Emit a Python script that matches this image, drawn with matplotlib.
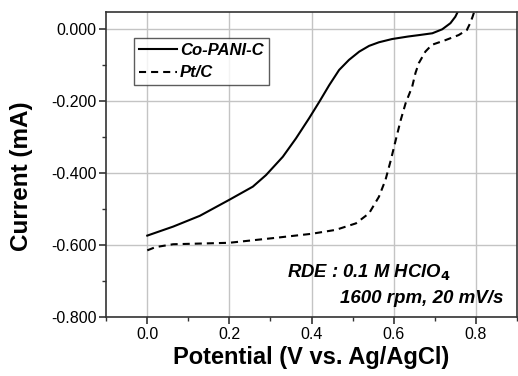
import numpy as np
import matplotlib
matplotlib.use('Agg')
import matplotlib.pyplot as plt
from matplotlib.ticker import MultipleLocator

# Co-PANI-C (solid)
copani_x = [0.0, 0.063, 0.128, 0.199, 0.257, 0.289, 0.330, 0.362, 0.394, 0.419,
            0.443, 0.467, 0.491, 0.516, 0.540, 0.564, 0.596, 0.635, 0.662, 0.694,
            0.718, 0.738, 0.750, 0.756]
copani_y = [-0.574, -0.549, -0.519, -0.475, -0.438, -0.406, -0.355, -0.304, -0.248,
            -0.202, -0.156, -0.114, -0.086, -0.063, -0.047, -0.037, -0.028, -0.021,
            -0.017, -0.012, -0.001, 0.016, 0.034, 0.048]

# Pt/C (dashed)
ptc_x = [0.0, 0.02, 0.063, 0.199, 0.306, 0.400, 0.459, 0.508, 0.540, 0.564, 0.580,
         0.593, 0.605, 0.617, 0.629, 0.645, 0.653, 0.661, 0.677, 0.693, 0.726,
         0.758, 0.778, 0.786, 0.792, 0.796]
ptc_y = [-0.615, -0.606, -0.598, -0.594, -0.581, -0.569, -0.558, -0.540, -0.512,
         -0.466, -0.419, -0.364, -0.308, -0.253, -0.206, -0.160, -0.122, -0.095,
         -0.063, -0.044, -0.031, -0.017, -0.003, 0.016, 0.034, 0.048]

x_ticks = [0.0, 0.2, 0.4, 0.6, 0.8]
x_labels = ['0.0', '0.2', '0.4', '0.6', '0.8']
y_ticks = [0.0, -0.2, -0.4, -0.6, -0.8]
y_labels = ['0.000', '-0.200', '-0.400', '-0.600', '-0.800']

plt.rcParams['font.family'] = ['Liberation Sans', 'DejaVu Sans']

fig = plt.figure(figsize=(5.18, 3.76), dpi=100)
ax = fig.add_axes([0.205, 0.157, 0.793, 0.811])

# grid lines at the major ticks
for t in x_ticks:
    ax.axvline(t, color='#c4c4c4', linewidth=1.0, zorder=0)
for t in y_ticks:
    ax.axhline(t, color='#c4c4c4', linewidth=1.0, zorder=0)

ax.plot(copani_x, copani_y, color='black', linewidth=1.5, label='Co-PANI-C')
ax.plot(ptc_x, ptc_y, color='black', linewidth=1.5, linestyle=(0, (3.4, 2.4)), label='Pt/C')

ax.set_xlim(-0.1, 0.9)
ax.set_ylim(-0.8, 0.047)
ax.xaxis.set_minor_locator(MultipleLocator(0.1))
ax.yaxis.set_minor_locator(MultipleLocator(0.1))
ax.set_xticks(x_ticks)
ax.set_xticklabels(x_labels)
ax.set_yticks(y_ticks)
ax.set_yticklabels(y_labels)

for s in ax.spines.values():
    s.set_color('#333333')
    s.set_linewidth(1.2)
ax.tick_params(which='major', direction='out', length=5, width=1.2, color='#333333',
               labelsize=11.5, pad=2)
ax.tick_params(which='minor', direction='out', length=3, width=1.0, color='#333333')

ax.set_xlabel('Potential (V vs. Ag/AgCl)', fontsize=17, fontweight='bold', labelpad=3)
ax.set_ylabel('Current (mA)', fontsize=17.5, fontweight='bold')
ax.yaxis.set_label_coords(-0.178, 0.462)

leg = ax.legend(loc='upper left', bbox_to_anchor=(0.068, 0.915), borderaxespad=0,
                frameon=True, fancybox=False, edgecolor='#333333', handlelength=2.3,
                borderpad=0.3, labelspacing=0.45, handletextpad=0.15,
                prop={'weight': 'bold', 'style': 'italic', 'size': 12})
leg.get_frame().set_linewidth(1.0)

ax.text(0.341, -0.689, r'RDE : 0.1 M HClO$_{\mathbf{4}}$', fontsize=13.3,
        fontweight='bold', fontstyle='italic')
ax.text(0.868, -0.762, '1600 rpm, 20 mV/s', fontsize=13.5, fontweight='bold',
        fontstyle='italic', ha='right')

fig.savefig('out.png', dpi=100)
